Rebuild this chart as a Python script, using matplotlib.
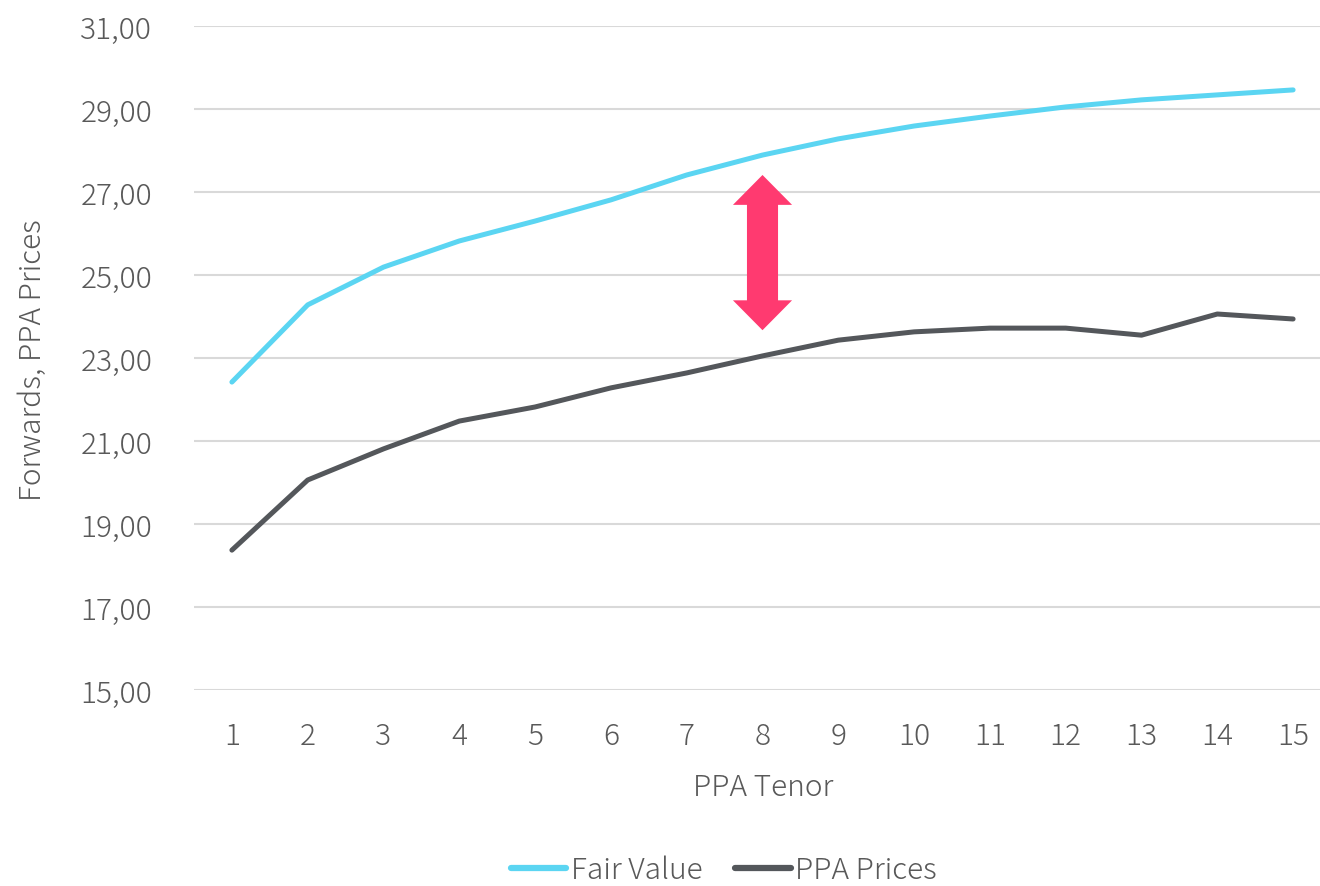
import matplotlib
matplotlib.use("Agg")
import matplotlib.pyplot as plt
from matplotlib.patches import Polygon
from matplotlib.ticker import FuncFormatter

plt.rcParams['font.family'] = ['Noto Sans CJK JP', 'DejaVu Sans']
plt.rcParams['font.weight'] = 'light'

tenor = list(range(1, 16))
fair_value = [22.42, 24.28, 25.19, 25.82, 26.30, 26.81, 27.41, 27.89, 28.28,
              28.59, 28.83, 29.05, 29.22, 29.34, 29.46]
ppa_prices = [18.37, 20.06, 20.81, 21.48, 21.82, 22.28, 22.64, 23.05, 23.43,
              23.63, 23.72, 23.72, 23.55, 24.06, 23.94]
y_ticks = [15, 17, 19, 21, 23, 25, 27, 29, 31]

# annotation arrow (data units)
arrow_x = 8
arrow_top = 27.41
arrow_bottom = 23.67
head_len = 0.72
head_w = 0.78
shaft_w = 0.41

text_col = '#595959'
fv_col = '#5BD5F2'
ppa_col = '#54575B'
arrow_col = '#FF3A70'
fs = 21.5

fig = plt.figure(figsize=(13.2, 8.87), dpi=100)
ax = fig.add_axes([194/1320, 196/887, (1331-194)/1320, (691-27)/887])

ax.plot(tenor, fair_value, color=fv_col, lw=3.6, solid_capstyle='round',
        solid_joinstyle='round', label='Fair Value', clip_on=False, zorder=3)
ax.plot(tenor, ppa_prices, color=ppa_col, lw=3.6, solid_capstyle='round',
        solid_joinstyle='round', label='PPA Prices', clip_on=False, zorder=3)

hw, sw = head_w / 2, shaft_w / 2
poly = [
    (arrow_x, arrow_top),
    (arrow_x + hw, arrow_top - head_len),
    (arrow_x + sw, arrow_top - head_len),
    (arrow_x + sw, arrow_bottom + head_len),
    (arrow_x + hw, arrow_bottom + head_len),
    (arrow_x, arrow_bottom),
    (arrow_x - hw, arrow_bottom + head_len),
    (arrow_x - sw, arrow_bottom + head_len),
    (arrow_x - sw, arrow_top - head_len),
    (arrow_x - hw, arrow_top - head_len),
]
ax.add_patch(Polygon(poly, closed=True, facecolor=arrow_col, edgecolor='none', zorder=4))

ax.set_xlim(0.5, 15.5)
ax.set_ylim(15, 31)
ax.set_xticks(tenor)
ax.set_yticks(y_ticks)
ax.yaxis.set_major_formatter(FuncFormatter(lambda v, p: f"{v:.2f}".replace('.', ',')))
ax.grid(axis='y', color='#D9D9D9', lw=1.5)
ax.set_axisbelow(True)
for s in ax.spines.values():
    s.set_visible(False)
ax.tick_params(axis='both', length=0, labelsize=fs, colors=text_col)
ax.tick_params(axis='y', pad=30)
ax.tick_params(axis='x', pad=22)

fig.text(33/1320, 1 - 360/887, 'Forwards, PPA Prices', rotation=90, ha='center',
         va='center', fontsize=fs, color=text_col)
fig.text(763/1320, 1 - 788/887, 'PPA Tenor', ha='center', va='center',
         fontsize=fs, color=text_col)

leg = fig.legend(loc='center', bbox_to_anchor=(724/1320, 1 - 871/887), ncol=2,
                 frameon=False, fontsize=fs, handlelength=1.85, handletextpad=0.15,
                 columnspacing=1.1, labelcolor=text_col)
for h in leg.get_lines():
    h.set_linewidth(4.5)
    h.set_solid_capstyle('round')

fig.savefig('out.png', dpi=100)
